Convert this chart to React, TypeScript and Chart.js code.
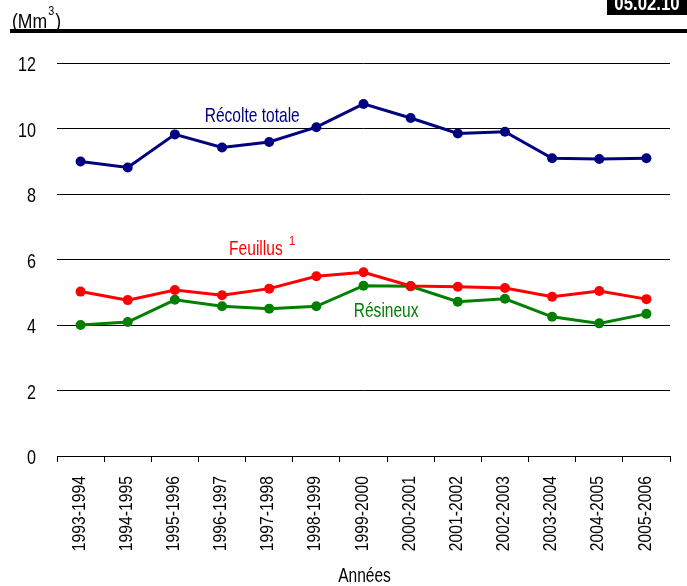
import React, { useEffect, useRef } from "react";
import { Chart, registerables } from "chart.js";

Chart.register(...registerables);

const categories = [
  "1993-1994", "1994-1995", "1995-1996", "1996-1997", "1997-1998", "1998-1999", "1999-2000",
  "2000-2001", "2001-2002", "2002-2003", "2003-2004", "2004-2005", "2005-2006",
];
const recolteTotale = [8.99, 8.81, 9.82, 9.42, 9.59, 10.04, 10.75, 10.32, 9.85, 9.9, 9.09, 9.07, 9.09];
const feuillus = [5.02, 4.76, 5.07, 4.91, 5.11, 5.49, 5.61, 5.19, 5.17, 5.13, 4.86, 5.04, 4.79];
const resineux = [4.0, 4.09, 4.77, 4.57, 4.5, 4.57, 5.2, 5.18, 4.71, 4.8, 4.25, 4.05, 4.34];
const yTicks = [0, 2, 4, 6, 8, 10, 12];
const yTickLabels = ["0", "2", "4", "6", "8", "10", "12"];

const FONT = '"Liberation Sans", Arial, sans-serif';
const NARROW = 0.74;
const NAVY = "#000080";
const RED = "#FF0000";
const GREEN = "#008000";

// draw horizontally condensed text (Arial Narrow look)
function narrowText(ctx: any, text: string, x: number, y: number, align: string, k = NARROW) {
  ctx.save();
  ctx.translate(x, y);
  ctx.scale(k, 1);
  ctx.textAlign = align;
  ctx.fillText(text, 0, 0);
  ctx.restore();
}
function narrowWidth(ctx: any, text: string, k = NARROW) {
  return ctx.measureText(text).width * k;
}

const overlayPlugin = {
  id: "overlay",
  afterDraw(chart: any) {
    const ctx = chart.ctx;
    const xs = chart.scales.x;
    const ys = chart.scales.y;
    const xAt = (i: number) => xs.left + (xs.right - xs.left) * (i + 0.5) / categories.length;
    ctx.save();
    // header rule
    ctx.fillStyle = "#000";
    ctx.fillRect(10, 29, 677, 4);
    // unit label
    ctx.textBaseline = "alphabetic";
    ctx.font = `20px ${FONT}`;
    narrowText(ctx, "(Mm", 12, 28, "left", 0.88);
    const w = narrowWidth(ctx, "(Mm", 0.88);
    ctx.font = `12px ${FONT}`;
    narrowText(ctx, "3", 12 + w + 1, 15, "left", 0.9);
    const w3 = narrowWidth(ctx, "3", 0.9);
    ctx.font = `20px ${FONT}`;
    narrowText(ctx, ")", 12 + w + w3 + 2, 28, "left", 0.88);
    // badge
    ctx.fillStyle = "#000";
    ctx.fillRect(607, 0, 80, 15);
    ctx.fillStyle = "#fff";
    ctx.font = `bold 21px ${FONT}`;
    narrowText(ctx, "05.02.10", 647, 10, "center", 0.8);

    // y tick labels
    ctx.fillStyle = "#000";
    ctx.font = `21px ${FONT}`;
    yTicks.forEach((v, i) => {
      narrowText(ctx, yTickLabels[i], 36, ys.getPixelForValue(v) + 8, "right", 0.77);
    });
    // x tick labels (rotated)
    ctx.font = `18.5px ${FONT}`;
    categories.forEach((c, i) => {
      ctx.save();
      ctx.translate(xs.getPixelForValue(i) - 1, xs.top + 20);
      ctx.rotate(-Math.PI / 2);
      ctx.scale(0.85, 1);
      ctx.textAlign = "right";
      ctx.textBaseline = "middle";
      ctx.fillText(c, 0, 0);
      ctx.restore();
    });
    // x title
    ctx.font = `21px ${FONT}`;
    narrowText(ctx, "Années", (xs.left + xs.right) / 2 + 1, 582, "center");

    // series labels
    ctx.font = `21px ${FONT}`;
    ctx.fillStyle = NAVY;
    narrowText(ctx, "Récolte totale", xAt(3.64), ys.getPixelForValue(10.2), "center");
    ctx.fillStyle = RED;
    const fx = xAt(3.15);
    const fy = ys.getPixelForValue(6.14);
    narrowText(ctx, "Feuillus", fx, fy, "left");
    const fw = narrowWidth(ctx, "Feuillus ");
    ctx.font = `13px ${FONT}`;
    narrowText(ctx, "1", fx + fw + 2, fy - 10, "left", 0.85);
    ctx.font = `21px ${FONT}`;
    ctx.fillStyle = GREEN;
    narrowText(ctx, "Résineux", xAt(6.48), ys.getPixelForValue(4.23), "center");
    ctx.restore();
  },
};

export default function App() {
  const ref = useRef<HTMLCanvasElement>(null);
  useEffect(() => {
    document.body.style.margin = "0";
    const ds = (label: string, data: number[], color: string) => ({
      label,
      data,
      borderColor: color,
      backgroundColor: color,
      pointBackgroundColor: color,
      pointBorderColor: color,
      pointRadius: 5,
      pointBorderWidth: 0,
      borderWidth: 3,
      tension: 0,
    });
    const chart = new Chart(ref.current!, {
      type: "line",
      data: {
        labels: categories,
        datasets: [
          ds("Récolte totale", recolteTotale, NAVY),
          ds("Feuillus", feuillus, RED),
          ds("Résineux", resineux, GREEN),
        ],
      },
      options: {
        responsive: false,
        animation: false,
        devicePixelRatio: 1,
        layout: { padding: { top: 63, left: 0, right: 17, bottom: 0 } },
        plugins: { legend: { display: false }, tooltip: { enabled: false } },
        scales: {
          x: {
            offset: true,
            grid: { display: true, drawOnChartArea: false, offset: true, color: "#000", tickLength: 6, tickWidth: 1 },
            border: { display: true, color: "#000", width: 1 },
            ticks: { display: false, autoSkip: false },
            afterFit: (s: any) => { s.height = 130; },
          },
          y: {
            min: 0,
            max: 12,
            afterBuildTicks: (s: any) => { s.ticks = yTicks.map((v) => ({ value: v })); },
            grid: { color: "#000", lineWidth: 1, drawTicks: false },
            border: { display: false },
            ticks: { display: false },
            afterFit: (s: any) => { s.width = 57; },
          },
        },
      },
      plugins: [overlayPlugin],
    });
    return () => chart.destroy();
  }, []);
  return (
    <div style={{ position: "fixed", left: 0, top: 0, width: 687, height: 586 }}>
      <canvas ref={ref} width={687} height={586} style={{ display: "block", width: 687, height: 586 }} />
    </div>
  );
}
